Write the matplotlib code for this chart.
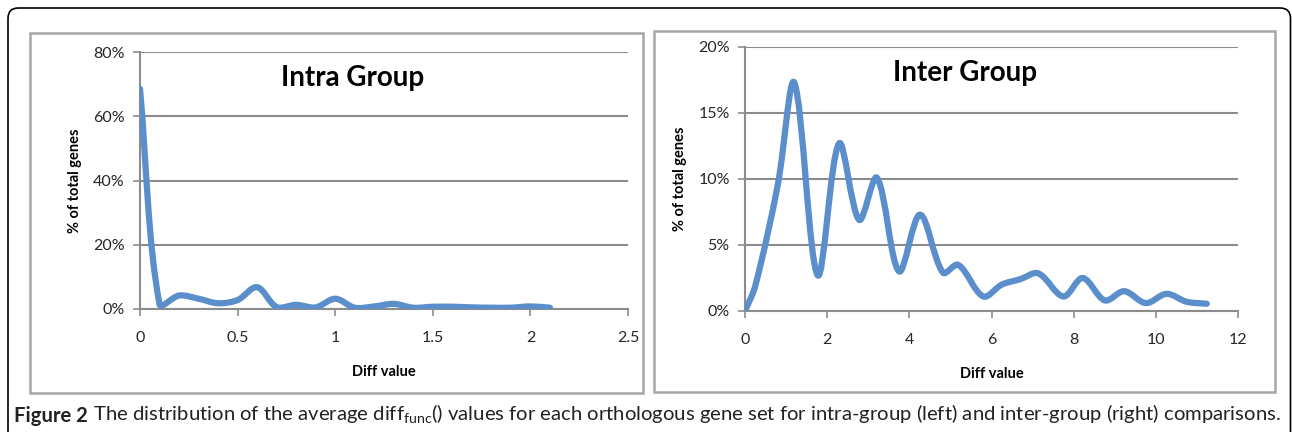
import matplotlib

matplotlib.use("Agg")
import matplotlib.pyplot as plt
from matplotlib.patches import PathPatch, Rectangle, FancyBboxPatch
from matplotlib.path import Path
from matplotlib.ticker import PercentFormatter

plt.rcParams["font.family"] = ["Lato", "DejaVu Sans"]
plt.rcParams["mathtext.fontset"] = "custom"
plt.rcParams["mathtext.rm"] = "Lato"

# intra-group distribution (% of genes per diff bin)
intra_x = [0.0, 0.1, 0.2, 0.3, 0.4, 0.5, 0.6, 0.7, 0.8, 0.9, 1.0, 1.1,
           1.2, 1.3, 1.4, 1.5, 1.6, 1.7, 1.8, 1.9, 2.0, 2.1]
intra_y = [68.5, 1.5, 4.2, 3.2, 1.8, 2.8, 6.8, 0.6, 1.3, 0.5, 3.2, 0.4,
           0.8, 1.6, 0.4, 0.7, 0.7, 0.5, 0.4, 0.4, 0.8, 0.4]

# inter-group distribution
inter_x = [0.0, 0.25, 0.8, 1.2, 1.77, 2.29, 2.78, 3.21, 3.75, 4.26, 4.82, 5.19,
           5.8, 6.25, 6.69, 7.14, 7.75, 8.22, 8.76, 9.23, 9.76, 10.26, 10.75, 11.24]
inter_y = [0.0, 1.9, 9.6, 17.3, 2.7, 12.7, 6.9, 10.1, 3.0, 7.3, 2.9, 3.5,
           1.1, 2.0, 2.4, 2.85, 1.1, 2.5, 0.8, 1.5, 0.6, 1.3, 0.7, 0.55]

LINE = "#5b8fcc"
GRID = "#8c8c8c"
CAPTION = (" The distribution of the average diff$_{\\mathrm{func}}$() values for each "
           "orthologous gene set for intra-group (left) and inter-group (right) comparisons.")


def smooth_path(ax, xs, ys):
    """Excel-like smoothed line: Bezier through each point, control arms scaled by
    the on-screen length of the neighbouring segments (limits overshoot)."""
    pts = ax.transData.transform(list(zip(xs, ys)))
    n = len(pts)
    verts, codes = [pts[0]], [Path.MOVETO]

    def arm(i, j):
        prev, nxt = pts[max(i - 1, 0)], pts[min(i + 1, n - 1)]
        d_prev = ((pts[i] - prev) ** 2).sum() ** 0.5
        d_next = ((nxt - pts[i]) ** 2).sum() ** 0.5
        own = d_next if j > i else d_prev
        return (nxt - prev) * own / max(d_prev + d_next, 1e-9) / 3

    for i in range(n - 1):
        verts += [pts[i] + arm(i, i + 1), pts[i + 1] - arm(i + 1, i), pts[i + 1]]
        codes += [Path.CURVE4] * 3
    return Path(ax.transData.inverted().transform(verts), codes)


def panel(ax, xs, ys, xmax, xstep, ymax, ystep, title, title_xy):
    ax.set_xlim(0, xmax)
    ax.set_ylim(0, ymax)
    ax.add_patch(PathPatch(smooth_path(ax, xs, ys), fill=False, edgecolor=LINE,
                           linewidth=4.5, capstyle="round", joinstyle="round", zorder=3))
    ax.set_xticks([i * xstep for i in range(int(round(xmax / xstep)) + 1)])
    ax.set_yticks([i * ystep for i in range(int(round(ymax / ystep)) + 1)])
    ax.xaxis.set_major_formatter(lambda v, _: f"{v:g}")
    ax.yaxis.set_major_formatter(PercentFormatter(decimals=0))
    ax.grid(axis="y", color=GRID, linewidth=1.5)
    ax.set_axisbelow(True)
    for s in ("top", "right"):
        ax.spines[s].set_visible(False)
    for s in ("left", "bottom"):
        ax.spines[s].set_color(GRID)
        ax.spines[s].set_linewidth(1.5)
    ax.tick_params(axis="both", colors=GRID, labelcolor="#262626", labelsize=11.5,
                   width=1.2, length=5)
    ax.tick_params(axis="x", pad=11)
    ax.tick_params(axis="y", pad=6)
    ax.set_xlabel("Diff value", fontsize=10.5, fontweight="bold", labelpad=14)
    ax.set_ylabel("% of total genes", fontsize=10.5, fontweight="bold", labelpad=8)
    ax.text(*title_xy, title, transform=ax.transAxes, ha="center", va="center",
            fontsize=20, fontweight="bold")


fig = plt.figure(figsize=(12.92, 4.32), dpi=100)
W, H = 1292, 432

# outer border (rounded corner) and the two chart frames
fig.add_artist(FancyBboxPatch((8 / W, -0.2), (1290.5 - 8) / W, (1 - 8 / H) + 0.2,
                              boxstyle="round,pad=0,rounding_size=0.008",
                              transform=fig.transFigure, fill=False,
                              edgecolor="black", linewidth=1.2, mutation_aspect=W / H))
fig.add_artist(Rectangle((30 / W, 1 - 393 / H), 613 / W, 360 / H, transform=fig.transFigure,
                         fill=False, edgecolor="#a6a6a6", linewidth=1.8))
fig.add_artist(Rectangle((654 / W, 1 - 392 / H), 621 / W, 361 / H, transform=fig.transFigure,
                         fill=False, edgecolor="#a6a6a6", linewidth=1.8))

ax1 = fig.add_axes([140 / W, 1 - 309 / H, 488 / W, 257 / H])
panel(ax1, intra_x, intra_y, 2.5, 0.5, 80, 20, "Intra Group", (0.435, 0.9))
ax2 = fig.add_axes([745 / W, 1 - 311 / H, 493 / W, 264 / H])
panel(ax2, inter_x, inter_y, 12, 2, 20, 5, "Inter Group", (0.447, 0.903))

t1 = fig.text(14 / W, 1 - 422 / H, "Figure 2", fontsize=14.6, fontweight="bold",
              color="#222222", va="baseline")
plt.annotate(CAPTION, xy=(1, 0), xycoords=t1, va="bottom", fontsize=14.6,
             color="#222222", annotation_clip=False)

fig.savefig("out.png", dpi=100)
